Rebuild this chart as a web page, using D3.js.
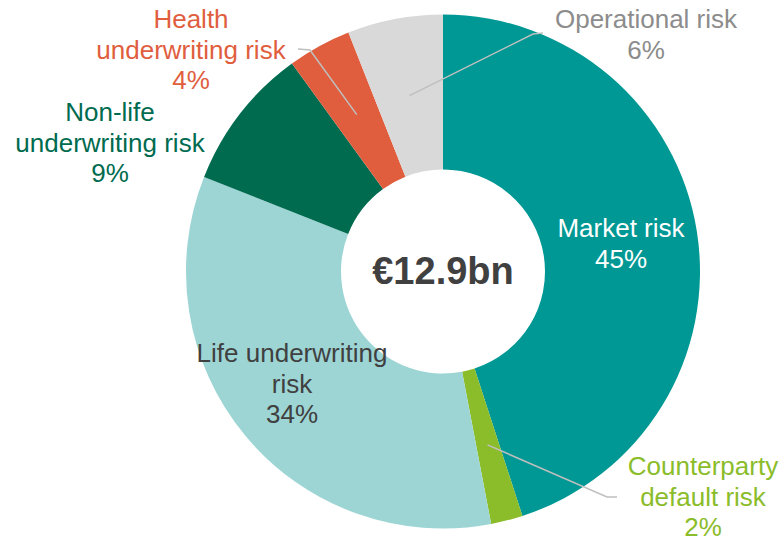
<!DOCTYPE html>
<html>
<head>
<meta charset="utf-8">
<script src="https://cdn.jsdelivr.net/npm/d3@7"></script>
<style>
  body { margin: 0; background: #fff; }
  svg { display: block; font-family: "Liberation Sans", Arial, sans-serif; }
</style>
</head>
<body>
<div id="chart-area"></div>
<script>
// data
const categories = ["Market risk", "Counterparty default risk", "Life underwriting risk",
    "Non-life underwriting risk", "Health underwriting risk", "Operational risk"];
const shares = [45, 2, 34, 9, 4, 6];
const total = "€12.9bn";

const sliceColors = ["#009894", "#8bbc2a", "#9dd5d5", "#006b4f", "#e05e3e", "#d9d9d9"];
const labelColors = ["#ffffff", "#8bbc2a", "#404040", "#006b4f", "#e05e3e", "#8c8c8c"];
const labelLines = [
    ["Market risk", "45%"],
    ["Counterparty", "default risk", "2%"],
    ["Life underwriting", "risk", "34%"],
    ["Non-life", "underwriting risk", "9%"],
    ["Health", "underwriting risk", "4%"],
    ["Operational risk", "6%"]
];
// label anchor (x, first baseline) and leader elbow points
const labelPos = [[621, 237], [703, 475], [292, 362], [110, 121], [191, 28], [646, 28]];
const leaders = [null, [[607, 497], [617, 497]], null, null, [[310, 50], [298, 49]], [[533, 34], [543, 33]]];

const width = 783, height = 542;
const cx = 443, cy = 271.5, outerR = 257, innerR = 102;

const svg = d3.select("#chart-area")
    .append("svg")
    .attr("width", width)
    .attr("height", height);

const g = svg.append("g").attr("transform", `translate(${cx},${cy})`);

const pie = d3.pie().sort(null).value(d => d);
const arcs = pie(shares);

const arc = d3.arc().innerRadius(innerR).outerRadius(outerR);

g.selectAll("path.slice")
    .data(arcs)
    .enter()
    .append("path")
    .attr("class", "slice")
    .attr("d", arc)
    .attr("fill", (d, i) => sliceColors[i]);

// leader lines
const leaderArc = d3.arc().innerRadius(179).outerRadius(179);
arcs.forEach((d, i) => {
    if (!leaders[i]) return;
    const c = leaderArc.centroid(d);
    const pts = [[c[0] + cx, c[1] + cy]].concat(leaders[i]);
    svg.append("path")
        .attr("d", d3.line()(pts))
        .attr("fill", "none")
        .attr("stroke", "#bfbfbf")
        .attr("stroke-width", 1.5);
});

// labels
labelLines.forEach((lines, i) => {
    const t = svg.append("text")
        .attr("x", labelPos[i][0])
        .attr("y", labelPos[i][1])
        .attr("text-anchor", "middle")
        .attr("font-size", "26px")
        .attr("fill", labelColors[i]);
    lines.forEach((s, j) => {
        t.append("tspan")
            .attr("x", labelPos[i][0])
            .attr("dy", j === 0 ? 0 : 30.5)
            .text(s);
    });
});

svg.append("text")
    .attr("x", cx)
    .attr("y", 284)
    .attr("text-anchor", "middle")
    .attr("font-size", "38px")
    .attr("font-weight", "bold")
    .attr("fill", "#404040")
    .text(total);
</script>
</body>
</html>
